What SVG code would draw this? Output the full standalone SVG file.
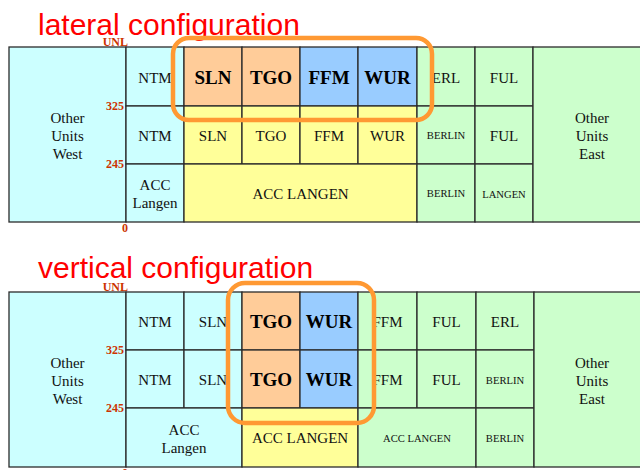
<svg xmlns="http://www.w3.org/2000/svg" width="640" height="470" viewBox="0 0 640 470">
  <style>
    .cell { stroke: #2b2b2b; stroke-width: 1.3; }
    .cyan { fill: #ccffff; }
    .yellow { fill: #ffff99; }
    .orange { fill: #ffcc99; }
    .blue { fill: #99ccff; }
    .green { fill: #ccffcc; }
    .t { font-family: "Liberation Serif", "Times New Roman", serif; font-size: 15px; fill: #111; text-anchor: middle; }
    .b { font-family: "Liberation Serif", "Times New Roman", serif; font-size: 19px; font-weight: bold; fill: #000; text-anchor: middle; }
    .s { font-family: "Liberation Serif", "Times New Roman", serif; font-size: 10.6px; fill: #111; text-anchor: middle; }
    .lvl { font-family: "Liberation Serif", "Times New Roman", serif; font-size: 12px; font-weight: bold; fill: #cc3300; text-anchor: end; }
    .title { font-family: "Liberation Sans", Arial, sans-serif; font-size: 30px; fill: #ff0000; }
    .hl { fill: none; stroke: #ff9933; stroke-width: 4.5; }
  </style>

  <!-- ===== lateral configuration ===== -->
  <text class="title" x="38" y="35">lateral configuration</text>
  <g id="lateral">
    <g id="lat-west"><rect class="cell cyan" x="9" y="47" width="117" height="175"/>
      <text class="t" x="67.5" y="123">Other</text><text class="t" x="67.5" y="141">Units</text><text class="t" x="67.5" y="159">West</text></g>
    <g id="lat-ntm-hi"><rect class="cell cyan" x="126" y="47" width="58" height="59"/><text class="t" x="155" y="82.5">NTM</text></g>
    <g id="lat-sln-hi"><rect class="cell orange" x="184" y="47" width="58" height="59"/><text class="b" x="213" y="83.5">SLN</text></g>
    <g id="lat-tgo-hi"><rect class="cell orange" x="242" y="47" width="58" height="59"/><text class="b" x="271" y="83.5">TGO</text></g>
    <g id="lat-ffm-hi"><rect class="cell blue" x="300" y="47" width="58" height="59"/><text class="b" x="329" y="83.5">FFM</text></g>
    <g id="lat-wur-hi"><rect class="cell blue" x="358" y="47" width="59" height="59"/><text class="b" x="387.5" y="83.5">WUR</text></g>
    <g id="lat-erl-hi"><rect class="cell green" x="417" y="47" width="58" height="59"/><text class="t" x="446" y="82.5">ERL</text></g>
    <g id="lat-ful-hi"><rect class="cell green" x="475" y="47" width="58" height="59"/><text class="t" x="504" y="82.5">FUL</text></g>

    <g id="lat-ntm-lo"><rect class="cell cyan" x="126" y="106" width="58" height="58"/><text class="t" x="155" y="141">NTM</text></g>
    <g id="lat-sln-lo"><rect class="cell yellow" x="184" y="106" width="58" height="58"/><text class="t" x="213" y="141">SLN</text></g>
    <g id="lat-tgo-lo"><rect class="cell yellow" x="242" y="106" width="58" height="58"/><text class="t" x="271" y="141">TGO</text></g>
    <g id="lat-ffm-lo"><rect class="cell yellow" x="300" y="106" width="58" height="58"/><text class="t" x="329" y="141">FFM</text></g>
    <g id="lat-wur-lo"><rect class="cell yellow" x="358" y="106" width="59" height="58"/><text class="t" x="387.5" y="141">WUR</text></g>
    <g id="lat-berlin-lo"><rect class="cell green" x="417" y="106" width="58" height="58"/><text class="s" x="446" y="139">BERLIN</text></g>
    <g id="lat-ful-lo"><rect class="cell green" x="475" y="106" width="58" height="58"/><text class="t" x="504" y="141">FUL</text></g>

    <g id="lat-acc-langen-w"><rect class="cell cyan" x="126" y="164" width="58" height="58"/>
      <text class="t" x="155" y="190">ACC</text><text class="t" x="155" y="207.5">Langen</text></g>
    <g id="lat-acc-langen"><rect class="cell yellow" x="184" y="164" width="233" height="58"/><text class="t" x="300.5" y="199">ACC LANGEN</text></g>
    <g id="lat-berlin-gnd"><rect class="cell green" x="417" y="164" width="58" height="58"/><text class="s" x="446" y="197">BERLIN</text></g>
    <g id="lat-langen-gnd"><rect class="cell green" x="475" y="164" width="58" height="58"/><text class="s" x="504" y="198">LANGEN</text></g>
    <g id="lat-east"><rect class="cell green" x="533" y="47" width="120" height="175"/>
      <text class="t" x="592" y="123">Other</text><text class="t" x="592" y="141">Units</text><text class="t" x="592" y="159">East</text></g>

    <g id="lat-levels">
      <text class="lvl" x="128" y="46">UNL</text>
      <text class="lvl" x="124" y="110">325</text>
      <text class="lvl" x="124" y="168">245</text>
      <text class="lvl" x="128" y="232">0</text>
    </g>
    <rect id="lat-highlight" class="hl" x="173" y="38" width="259" height="82" rx="16"/>
  </g>

  <!-- ===== vertical configuration ===== -->
  <text class="title" x="38" y="278">vertical configuration</text>
  <g id="vertical">
    <g id="ver-west"><rect class="cell cyan" x="9" y="292" width="117" height="175"/>
      <text class="t" x="67.5" y="368">Other</text><text class="t" x="67.5" y="386">Units</text><text class="t" x="67.5" y="404">West</text></g>
    <g id="ver-ntm-hi"><rect class="cell cyan" x="126" y="292" width="58" height="58"/><text class="t" x="155" y="327">NTM</text></g>
    <g id="ver-sln-hi"><rect class="cell cyan" x="184" y="292" width="58" height="58"/><text class="t" x="213" y="327">SLN</text></g>
    <g id="ver-tgo-hi"><rect class="cell orange" x="242" y="292" width="58" height="58"/><text class="b" x="271" y="328">TGO</text></g>
    <g id="ver-wur-hi"><rect class="cell blue" x="300" y="292" width="58" height="58"/><text class="b" x="329" y="328">WUR</text></g>
    <g id="ver-ffm-hi"><rect class="cell green" x="358" y="292" width="59" height="58"/><text class="t" x="387.5" y="327">FFM</text></g>
    <g id="ver-ful-hi"><rect class="cell green" x="417" y="292" width="59" height="58"/><text class="t" x="446.5" y="327">FUL</text></g>
    <g id="ver-erl-hi"><rect class="cell green" x="476" y="292" width="58" height="58"/><text class="t" x="505" y="327">ERL</text></g>

    <g id="ver-ntm-lo"><rect class="cell cyan" x="126" y="350" width="58" height="58"/><text class="t" x="155" y="385">NTM</text></g>
    <g id="ver-sln-lo"><rect class="cell cyan" x="184" y="350" width="58" height="58"/><text class="t" x="213" y="385">SLN</text></g>
    <g id="ver-tgo-lo"><rect class="cell orange" x="242" y="350" width="58" height="58"/><text class="b" x="271" y="386">TGO</text></g>
    <g id="ver-wur-lo"><rect class="cell blue" x="300" y="350" width="58" height="58"/><text class="b" x="329" y="386">WUR</text></g>
    <g id="ver-ffm-lo"><rect class="cell green" x="358" y="350" width="59" height="58"/><text class="t" x="387.5" y="385">FFM</text></g>
    <g id="ver-ful-lo"><rect class="cell green" x="417" y="350" width="59" height="58"/><text class="t" x="446.5" y="385">FUL</text></g>
    <g id="ver-berlin-lo"><rect class="cell green" x="476" y="350" width="58" height="58"/><text class="s" x="505" y="383.5">BERLIN</text></g>

    <g id="ver-acc-langen-w"><rect class="cell cyan" x="126" y="408" width="116" height="59"/>
      <text class="t" x="184" y="435">ACC</text><text class="t" x="184" y="452.5">Langen</text></g>
    <g id="ver-acc-langen"><rect class="cell yellow" x="242" y="408" width="116" height="59"/><text class="t" x="300" y="443">ACC LANGEN</text></g>
    <g id="ver-acc-langen-e"><rect class="cell green" x="358" y="408" width="118" height="59"/><text class="s" x="417" y="442">ACC LANGEN</text></g>
    <g id="ver-berlin-gnd"><rect class="cell green" x="476" y="408" width="58" height="59"/><text class="s" x="505" y="442">BERLIN</text></g>
    <g id="ver-east"><rect class="cell green" x="534" y="292" width="120" height="175"/>
      <text class="t" x="592" y="368">Other</text><text class="t" x="592" y="386">Units</text><text class="t" x="592" y="404">East</text></g>

    <g id="ver-levels">
      <text class="lvl" x="128" y="291">UNL</text>
      <text class="lvl" x="124" y="354">325</text>
      <text class="lvl" x="124" y="412">245</text>
      <text class="lvl" x="128" y="477">0</text>
    </g>
    <rect id="ver-highlight" class="hl" x="228" y="283" width="146" height="140" rx="17"/>
  </g>
</svg>
